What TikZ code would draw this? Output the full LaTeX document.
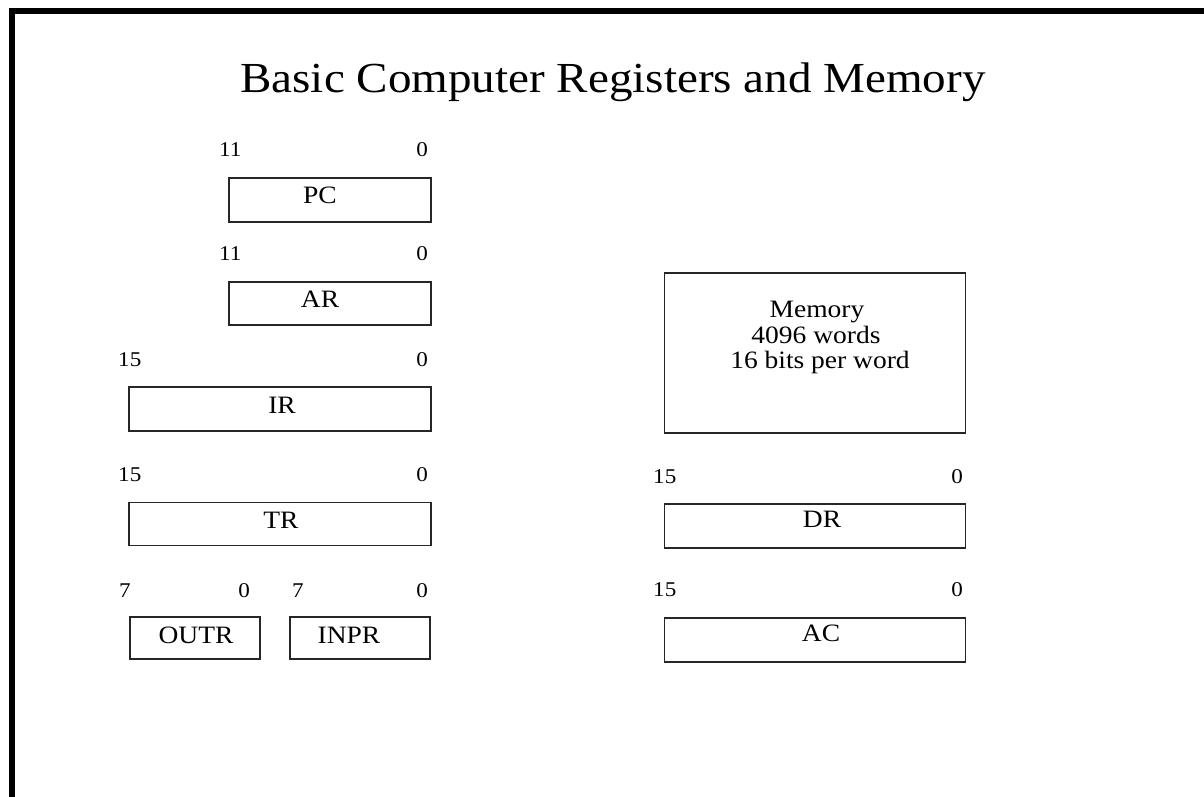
\documentclass[tikz,border=0pt]{standalone}
\usepackage{fontspec}
\setmainfont{Liberation Serif}[FakeStretch=1.1]
\begin{document}
\begin{tikzpicture}[x=1pt,y=-1pt,
  reg/.style={draw=black!85,line width=1.7pt,inner sep=0pt,fill=white},
  lab/.style={anchor=base,inner sep=0pt,font=\fontsize{25}{28}\selectfont},
  memt/.style={anchor=base,inner sep=0pt,font=\fontsize{25}{27}\selectfont},
  bitl/.style={anchor=base west,inner sep=0pt,font=\fontsize{21}{24}\selectfont},
  bitr/.style={anchor=base east,inner sep=0pt,font=\fontsize{21}{24}\selectfont}]
\useasboundingbox (0,0) rectangle (1204,797);
\fill[white] (0,0) rectangle (1204,797);
% frame (left and top edges)
\coordinate (fbl) at (11.5,800);
\coordinate (ftl) at (11.5,10.8);
\coordinate (ftr) at (1210,10.8);
\draw[line width=6pt,black] (fbl) -- (ftl) -- (ftr);
% title
\node[anchor=base,inner sep=0pt,font=\fontsize{42.8}{48}\selectfont] (title) at (613,93) {Basic Computer Registers and Memory};
% PC
\node[bitl] (pcH) at (219,156) {11};
\node[bitr] (pcL) at (428,156) {0};
\node[reg,minimum width=202pt,minimum height=44pt] (pc) at (330,200) {};
\node[lab] (pcT) at (320,203) {PC};
% AR
\node[bitl] (arH) at (219,260) {11};
\node[bitr] (arL) at (428,260) {0};
\node[reg,minimum width=202pt,minimum height=43pt] (ar) at (330,303.5) {};
\node[lab] (arT) at (320,307) {AR};
% IR
\node[bitl] (irH) at (118,366) {15};
\node[bitr] (irL) at (428,366) {0};
\node[reg,minimum width=302pt,minimum height=44pt] (ir) at (280,409) {};
\node[lab] (irT) at (282,413) {IR};
% TR
\node[bitl] (trH) at (118,481) {15};
\node[bitr] (trL) at (428,481) {0};
\node[reg,minimum width=302pt,minimum height=43pt] (tr) at (280,524) {};
\node[lab] (trT) at (281,528) {TR};
% OUTR
\node[bitl] (ouH) at (119,597) {7};
\node[bitr] (ouL) at (250,597) {0};
\node[reg,minimum width=130pt,minimum height=42pt] (outr) at (195,638) {};
\node[lab] (ouT) at (196,643) {OUTR};
% INPR
\node[bitl] (inH) at (292,597) {7};
\node[bitr] (inL) at (428,597) {0};
\node[reg,minimum width=140pt,minimum height=42pt] (inpr) at (360,638) {};
\node[lab] (inT) at (349,643) {INPR};
% Memory
\node[reg,minimum width=301pt,minimum height=160pt] (mem) at (815,353) {};
\node[memt] (memT1) at (817,317) {Memory};
\node[memt] (memT2) at (816,343) {4096 words};
\node[memt] (memT3) at (820,368) {16 bits per word};
% DR
\node[bitl] (drH) at (653,483) {15};
\node[bitr] (drL) at (963,483) {0};
\node[reg,minimum width=301pt,minimum height=44pt] (dr) at (815,526) {};
\node[lab] (drT) at (822,527) {DR};
% AC
\node[bitl] (acH) at (653,596) {15};
\node[bitr] (acL) at (963,596) {0};
\node[reg,minimum width=301pt,minimum height=44pt] (ac) at (815,640) {};
\node[lab] (acT) at (821,641) {AC};
\end{tikzpicture}
\end{document}
